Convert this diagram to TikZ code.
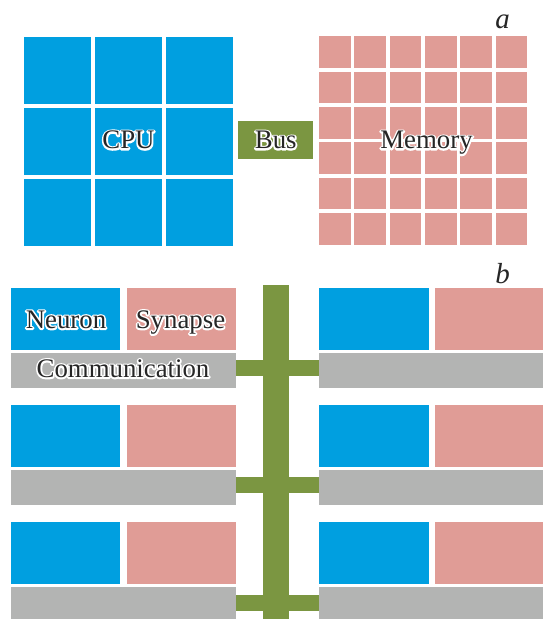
\documentclass[tikz,border=0pt]{standalone}
\usepackage{fontspec}
\setmainfont{Liberation Serif}
\definecolor{cpublue}{HTML}{009FE0}
\definecolor{mempink}{HTML}{E09C96}
\definecolor{busgreen}{HTML}{7B9641}
\definecolor{commgray}{HTML}{B3B4B3}
\definecolor{inkdark}{HTML}{262626}
% text with a white outline behind the glyphs
\newcommand\haloed[1]{%
  \makebox[0pt][l]{\special{x:gsave}\special{pdf:literal direct 1 Tr 3.4 w 1 j 1 J 1 1 1 RG}#1\special{x:grestore}}#1}
\tikzset{
  block/.style={rectangle, inner sep=0pt, draw=none},
  cpucell/.style={block, fill=cpublue, minimum width=67pt, minimum height=67pt},
  memcell/.style={block, fill=mempink, minimum width=31.7pt, minimum height=31.7pt},
  neuronbox/.style={block, fill=cpublue, minimum width=109pt, minimum height=62pt},
  synapsebox/.style={block, fill=mempink, minimum width=109pt, minimum height=62pt},
  commbox/.style={block, fill=commgray, minimum width=225pt, minimum height=35pt},
  busbox/.style={block, fill=busgreen},
  branch/.style={busgreen, line width=16pt},
  caption/.style={inner sep=0pt, anchor=base, text=inkdark, font=\fontsize{26.8}{32}\selectfont},
  panel/.style={inner sep=0pt, anchor=base, text=inkdark, font=\fontsize{29}{34}\selectfont\itshape},
}
\begin{document}
\begin{tikzpicture}[x=1pt, y=-1pt]
\useasboundingbox (0,0) rectangle (543,619);

% (a) processor, bus and memory
\foreach \i in {0,1,2}
  \foreach \j in {0,1,2}
    \node[cpucell] (cpu\i\j) at (57.5+71*\i, 70.5+71*\j) {};
\foreach \i in {0,...,5}
  \foreach \j in {0,...,5}
    \node[memcell] (mem\i\j) at (334.85+35.3*\i, 52.15+35.3*\j) {};
\node[busbox, minimum width=75pt, minimum height=38pt] (bus) at (275.5, 140) {};

\node[caption] (cpulabel) at (128.5, 148.8) {\haloed{CPU}};
\node[caption] (buslabel) at (275.8, 148.8) {\haloed{Bus}};
\node[caption] (memlabel) at (426.5, 148.8) {\haloed{Memory}};
\node[panel] (pa) at (502.7, 28.3) {a};

% (b) cores on a shared communication bus
\node[busbox, minimum width=26pt, minimum height=334pt] (spine) at (276, 452) {};
\foreach \r/\yc in {1/319, 2/435.85, 3/553.35} {
  \node[neuronbox] (neuL\r) at (65.5, \yc) {};
  \node[synapsebox] (synL\r) at (181.5, \yc) {};
  \node[commbox, anchor=north west] (comL\r) at (11, \yc+33.6) {};
  \node[neuronbox, minimum width=110pt] (neuR\r) at (374, \yc) {};
  \node[synapsebox, anchor=west] (synR\r) at (434.7, \yc) {};
  \node[commbox, minimum width=224pt, anchor=north west] (comR\r) at (319, \yc+33.6) {};
  \draw[branch] ([yshift=1.9pt]comL\r.east) -- ([yshift=1.9pt]comR\r.west);
}

\node[caption] (neulabel) at (66, 328.5) {\haloed{Neuron}};
\node[caption] (synlabel) at (180.5, 328.5) {\haloed{Synapse}};
\node[caption] (comlabel) at (123, 377.5) {\haloed{Communication}};
\node[panel] (pb) at (502.5, 283.3) {b};
\end{tikzpicture}
\end{document}
